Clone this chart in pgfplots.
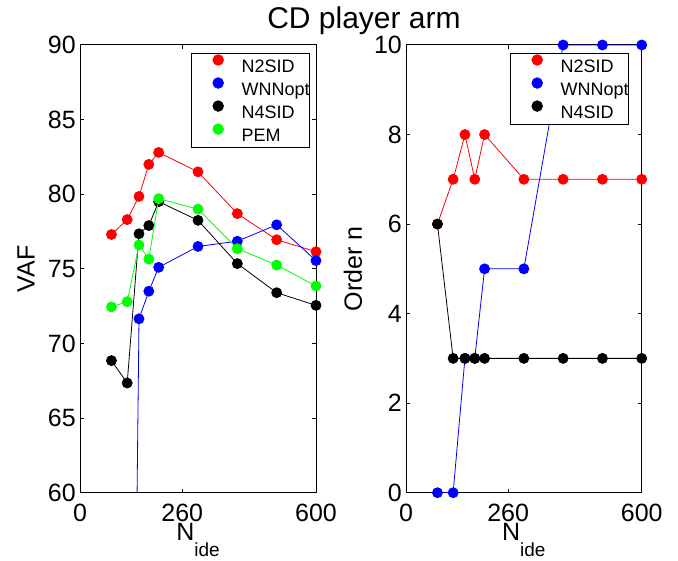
\documentclass[border=0pt]{standalone}
\usepackage{fontspec}
\setmainfont{Liberation Sans}
\usepackage{pgfplots}
\pgfplotsset{compat=1.18}
\pgfplotsset{
  myax/.style={
    scale only axis, width=236bp, height=447.7bp,
    xmin=0, xmax=600, xtick={0,260,600},
    tick align=inside, major tick length=4bp,
    axis line style={line width=1bp},
    every tick/.style={black, line width=1bp},
    tick label style={font=\fontsize{25bp}{30bp}\selectfont},
    /pgf/number format/assume math mode=true,
    xticklabel style={anchor=base, yshift=-29bp},
    yticklabel style={anchor=east, inner sep=0pt, xshift=-4bp},
    label style={font=\fontsize{25bp}{30bp}\selectfont},
    xlabel={N\raisebox{-16bp}{\fontsize{19bp}{22bp}\selectfont ide}},
    xlabel style={at={(axis description cs:0.5,0)}, anchor=base, yshift=-48bp, inner sep=0pt},
    clip mode=individual,
    every axis plot/.append style={line width=0.8bp, mark=*, mark size=5bp},
    every axis plot post/.append style={
      legend image code/.code={\path (0bp,-5bp) (32bp,5bp); \fill (26.3bp,6.45bp) circle (5.3bp);}},
    legend cell align=left,
    legend style={at={(1,1)}, anchor=north east, xshift=-6bp, yshift=-7.7bp,
      draw=black, line width=0.8bp,
      font=\fontsize{18bp}{22bp}\selectfont,
      inner xsep=0bp, inner ysep=1.2bp, column sep=17.3bp, row sep=0pt,
      nodes={inner sep=0pt, text height=17.3bp, text depth=4.5bp}},
  }
}
\pgfplotstableread{
N    n2sid  wnn    n4sid  pem
80   77.3   0      68.85  72.45
120  78.3   0      67.35  72.8
150  79.85  71.65  77.35  76.6
175  82.0   73.5   77.9   75.65
200  82.8   75.1   79.5   79.7
300  81.5   76.5   78.25  79.0
400  78.7   76.85  75.35  76.35
500  76.95  77.95  73.4   75.25
600  76.15  75.55  72.55  73.85
}\vaf
\pgfplotstableread{
N    n2sid  wnn  n4sid
80   6      0    6
120  7      0    3
150  8      3    3
175  7      3    3
200  8      5    3
300  7      5    3
400  7      10   3
500  7      10   3
600  7      10   3
}\order
\begin{document}
\begin{tikzpicture}[x=1bp,y=1bp]
\path[use as bounding box] (0,0) rectangle (678,561);
\node[anchor=base] at (364,532.7) {\fontsize{30bp}{36bp}\selectfont CD player arm};
\begin{axis}[myax, at={(80bp,68.3bp)}, anchor=south west,
  ymin=60, ymax=90, ytick={60,65,...,90},
  ylabel={VAF}, ylabel style={at={(axis description cs:-0.229,0.5)}, anchor=center}]
\addplot[red] table[x=N,y=n2sid] {\vaf};
\addplot[blue, mark=none, forget plot] table[x=N,y=wnn] {\vaf};
\addplot[blue, only marks, skip coords between index={0}{2}] table[x=N,y=wnn] {\vaf};
\addplot[black] table[x=N,y=n4sid] {\vaf};
\addplot[green] table[x=N,y=pem] {\vaf};
\legend{N2SID,WNNopt,N4SID,PEM}
\end{axis}
\begin{axis}[myax, at={(406bp,68.3bp)}, anchor=south west, width=235.7bp,
  ymin=0, ymax=10, ytick={0,2,...,10},
  ylabel={Order n}, ylabel style={at={(axis description cs:-0.225,0.5)}, anchor=center},
  legend style={xshift=-6.7bp}]
\addplot[red] table[x=N,y=n2sid] {\order};
\addplot[blue] table[x=N,y=wnn] {\order};
\addplot[black] table[x=N,y=n4sid] {\order};
\legend{N2SID,WNNopt,N4SID}
\end{axis}
\end{tikzpicture}
\end{document}
